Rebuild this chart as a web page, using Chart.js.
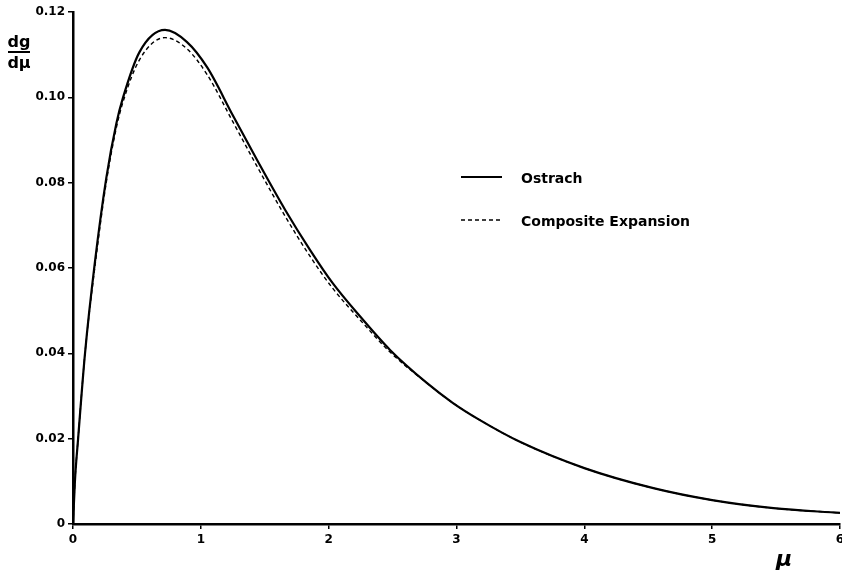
<!DOCTYPE html>
<html>
<head>
  <title>dg/dmu - Ostrach vs Composite Expansion</title>
  <script src="https://cdn.jsdelivr.net/npm/chart.js"></script>
  <style>
    html, body { margin: 0; padding: 0; background: #fff; }
    #wrap { width: 842px; height: 576px; }
  </style>
</head>
<body>
<div id="wrap"><canvas id="chart" width="842" height="576"></canvas></div>

<script>
  // values
  const mu        = [0, 0.015, 0.04, 0.094, 0.17, 0.26, 0.34, 0.39, 0.52, 0.72, 0.89, 1.05, 1.25, 1.44, 1.66, 1.855, 2.03, 2.25, 2.48, 2.77, 2.97, 3.18, 3.5, 4.0, 4.54, 5.0, 5.48, 6.0];
  const ostrach   = [0, 0.010, 0.020, 0.040, 0.061, 0.081, 0.094, 0.0998, 0.1106, 0.1158, 0.1130, 0.1070, 0.0958, 0.0853, 0.0736, 0.0642, 0.0565, 0.0485, 0.0408, 0.0330, 0.0284, 0.0244, 0.0192, 0.0131, 0.0084, 0.0056, 0.0037, 0.0026];
  const composite = [0, 0.010, 0.020, 0.040, 0.060, 0.080, 0.093, 0.0988, 0.1088, 0.1140, 0.1114, 0.1053, 0.0943, 0.0838, 0.0721, 0.0627, 0.0553, 0.0477, 0.0403, 0.0330, 0.0284, 0.0244, 0.0192, 0.0131, 0.0084, 0.0056, 0.0037, 0.0026];

  const xTicks = [0, 1, 2, 3, 4, 5, 6];
  const yTicks = [0, 0.02, 0.04, 0.06, 0.08, 0.10, 0.12];
  const seriesNames = ["Ostrach", "Composite Expansion"];

  const FONT = "'DejaVu Sans', sans-serif";

  const toPoints = (xs, ys) => xs.map((x, i) => ({ x: x, y: ys[i] }));

  // legend + axis titles drawn by hand (they sit inside the plot in the original)
  const annotations = {
    id: "annotations",
    afterDraw(chart) {
      const ctx = chart.ctx;
      ctx.save();
      ctx.fillStyle = "#000";
      ctx.strokeStyle = "#000";

      // legend
      const rows = [178, 221];
      chart.data.datasets.forEach((ds, i) => {
        const y = rows[i];
        ctx.lineWidth = ds.borderWidth;
        ctx.setLineDash(ds.borderDash || []);
        ctx.beginPath();
        ctx.moveTo(461, y - 1);
        ctx.lineTo(502, y - 1);
        ctx.stroke();
        ctx.setLineDash([]);
        ctx.font = "bold 14px " + FONT;
        ctx.textAlign = "left";
        ctx.textBaseline = "middle";
        ctx.fillText(ds.label, 521, y + 1);
      });

      // y axis title: dg / dmu
      ctx.font = "bold 16px " + FONT;
      ctx.textAlign = "center";
      ctx.textBaseline = "alphabetic";
      ctx.fillText("dg", 19, 47);
      ctx.lineWidth = 2;
      ctx.beginPath();
      ctx.moveTo(8, 52);
      ctx.lineTo(30, 52);
      ctx.stroke();
      ctx.fillText("d\u03BC", 19, 68);

      // x axis title
      ctx.font = "italic bold 22px " + FONT;
      ctx.fillText("\u03BC", 784, 566);
      ctx.restore();
    }
  };

  new Chart(document.getElementById("chart").getContext("2d"), {
    type: "line",
    data: {
      datasets: [
        {
          label: seriesNames[0],
          data: toPoints(mu, ostrach),
          borderColor: "#000",
          borderWidth: 2.2,
          pointRadius: 0,
          cubicInterpolationMode: "monotone",
          fill: false
        },
        {
          label: seriesNames[1],
          data: toPoints(mu, composite),
          borderColor: "#000",
          borderWidth: 1.4,
          borderDash: [4, 3],
          pointRadius: 0,
          cubicInterpolationMode: "monotone",
          fill: false
        }
      ]
    },
    options: {
      responsive: false,
      animation: false,
      layout: { padding: { top: 12, right: 2, left: 0, bottom: 0 } },
      plugins: {
        legend: { display: false },
        tooltip: { enabled: false }
      },
      scales: {
        x: {
          type: "linear",
          min: 0,
          max: 6,
          afterFit: scale => { scale.height = 52; scale.paddingRight = 0; },
          afterBuildTicks: scale => { scale.ticks = xTicks.map(v => ({ value: v })); },
          border: { display: true, color: "#000", width: 2.5 },
          grid: { display: true, drawOnChartArea: false, color: "#000", tickLength: 5, lineWidth: 1.5 },
          ticks: {
            color: "#000",
            padding: 4,
            maxRotation: 0,
            font: { family: FONT, size: 12, weight: "bold" },
            callback: v => String(v)
          }
        },
        y: {
          min: 0,
          max: 0.12,
          afterFit: scale => { scale.width = 73; },
          afterBuildTicks: scale => { scale.ticks = yTicks.map(v => ({ value: v })); },
          border: { display: true, color: "#000", width: 2.5 },
          grid: { display: true, drawOnChartArea: false, color: "#000", tickLength: 5, lineWidth: 1.5 },
          ticks: {
            color: "#000",
            padding: 3,
            font: { family: FONT, size: 12, weight: "bold" },
            callback: v => (v === 0 ? "0" : v.toFixed(2))
          }
        }
      }
    },
    plugins: [annotations]
  });
</script>
</body>
</html>
